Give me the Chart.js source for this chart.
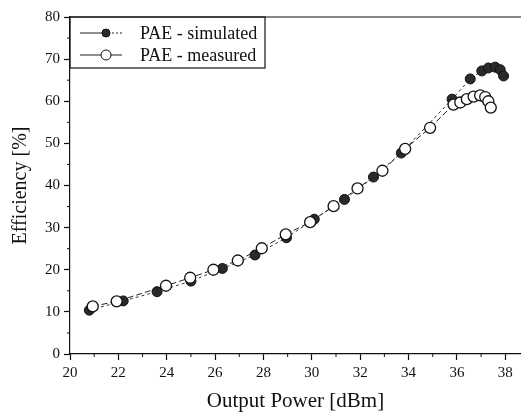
<!DOCTYPE html>
<html>
<head>
<meta charset="utf-8">
<script src="https://cdn.jsdelivr.net/npm/chart.js@4/dist/chart.umd.min.js"></script>
<style>
  html, body { margin:0; padding:0; background:#fff; overflow:hidden; }
  canvas { display:block; }
</style>
</head>
<body>
<canvas id="c" width="521" height="414"></canvas>
<script>
// === Data ===
const simX  = [20.8, 22.2, 23.6, 25.0, 26.3, 27.65, 28.95, 30.1, 31.35, 32.55, 33.7, 35.8, 36.55, 37.03, 37.3, 37.58, 37.79, 37.93];
const simY  = [10.4, 12.6, 14.8, 17.3, 20.3, 23.5, 27.6, 32.0, 36.7, 42.0, 47.7, 60.5, 65.3, 67.2, 67.9, 68.1, 67.5, 66.0];
const measX = [20.94, 21.93, 23.97, 24.97, 25.93, 26.94, 27.93, 28.92, 29.93, 30.9, 31.89, 32.92, 33.86, 34.89, 35.86, 36.14, 36.41, 36.69, 36.96, 37.17, 37.3, 37.4];
const measY = [11.3, 12.5, 16.2, 18.1, 20.0, 22.2, 25.1, 28.4, 31.3, 35.1, 39.3, 43.5, 48.7, 53.7, 59.2, 59.7, 60.5, 61.1, 61.4, 61.0, 60.0, 58.5];
const xTicks = [20, 22, 24, 26, 28, 30, 32, 34, 36, 38];
const yTicks = [0, 10, 20, 30, 40, 50, 60, 70, 80];
const legendLabels = ['PAE - simulated', 'PAE - measured'];

const FONT = "'Liberation Serif', 'DejaVu Serif', serif";

function pts(xs, ys){ return xs.map((x, i) => ({ x: x, y: ys[i] })); }

// === Plugin: minor ticks, top frame line, legend box ===
const extras = {
  id: 'extras',
  afterDraw(chart){
    const ctx = chart.ctx, a = chart.chartArea;
    const xs = chart.scales.x, ys = chart.scales.y;
    ctx.save();
    ctx.strokeStyle = '#111';
    ctx.lineWidth = 1.2;
    // top frame
    ctx.beginPath(); ctx.moveTo(a.left, a.top); ctx.lineTo(a.right, a.top); ctx.stroke();
    // minor ticks
    ctx.lineWidth = 1;
    ctx.beginPath();
    for (let v = 21; v <= 38; v += 2){
      const px = xs.getPixelForValue(v);
      ctx.moveTo(px, a.bottom); ctx.lineTo(px, a.bottom + 3);
    }
    for (let v = 5; v <= 75; v += 10){
      const py = ys.getPixelForValue(v);
      ctx.moveTo(a.left, py); ctx.lineTo(a.left - 3, py);
    }
    ctx.stroke();

    // legend box
    const bx = a.left, by = a.top, bw = 195, bh = 51;
    ctx.lineWidth = 1.2;
    ctx.strokeRect(bx, by, bw, bh);
    const rows = [
      { y: by + 16, ds: chart.data.datasets[0] },
      { y: by + 38, ds: chart.data.datasets[1] }
    ];
    rows.forEach((r, i) => {
      ctx.lineWidth = 1;
      ctx.strokeStyle = '#222';
      ctx.setLineDash([]);
      ctx.beginPath(); ctx.moveTo(bx + 10, r.y); ctx.lineTo(bx + 34, r.y); ctx.stroke();
      ctx.setLineDash(i === 0 ? [2, 2] : []);
      ctx.beginPath(); ctx.moveTo(bx + 34, r.y); ctx.lineTo(bx + 52, r.y); ctx.stroke();
      ctx.setLineDash([]);
      ctx.beginPath();
      ctx.arc(bx + 36, r.y, i === 0 ? 4 : 5, 0, Math.PI * 2);
      ctx.fillStyle = r.ds.pointBackgroundColor;
      ctx.fill();
      ctx.strokeStyle = r.ds.pointBorderColor;
      ctx.stroke();
      ctx.fillStyle = '#111';
      ctx.font = '18px ' + FONT;
      ctx.textBaseline = 'middle';
      ctx.fillText(legendLabels[i], bx + 70, r.y + 1);
    });
    ctx.restore();
  }
};

const ctx = document.getElementById('c').getContext('2d');
new Chart(ctx, {
  type: 'scatter',
  data: {
    datasets: [
      {
        label: legendLabels[0], data: pts(simX, simY), showLine: true, order: 1,
        borderColor: '#333', borderWidth: 1, borderDash: [3, 3],
        pointRadius: 5, pointBackgroundColor: '#2a2a2a', pointBorderColor: '#111', pointBorderWidth: 1
      },
      {
        label: legendLabels[1], data: pts(measX, measY), showLine: true, order: 0,
        borderColor: '#222', borderWidth: 1, borderDash: [6, 3],
        pointRadius: 5.5, pointBackgroundColor: '#fff', pointBorderColor: '#111', pointBorderWidth: 1.3
      }
    ]
  },
  options: {
    responsive: false, animation: false,
    layout: { autoPadding: false, padding: { top: 17, right: 0, bottom: 0, left: 0 } },
    plugins: { legend: { display: false }, tooltip: { enabled: false } },
    scales: {
      x: {
        type: 'linear', min: 20, max: 38.65,
        afterBuildTicks: s => { s.ticks = xTicks.map(v => ({ value: v })); },
        afterFit: s => { s.height = 60; },
        border: { display: true, color: '#111', width: 1.2 },
        grid: { drawOnChartArea: false, color: '#111', tickLength: 6, tickWidth: 1.2 },
        ticks: { color: '#111', font: { family: FONT, size: 15 }, padding: 4, maxRotation: 0 },
        title: { display: true, text: 'Output Power [dBm]', color: '#111',
                 font: { family: FONT, size: 21 }, padding: { top: 0, bottom: 0 } }
      },
      y: {
        type: 'linear', min: 0, max: 80,
        afterBuildTicks: s => { s.ticks = yTicks.map(v => ({ value: v })); },
        afterFit: s => { s.width = 70; },
        border: { display: true, color: '#111', width: 1.2 },
        grid: { drawOnChartArea: false, color: '#111', tickLength: 6, tickWidth: 1.2 },
        ticks: { color: '#111', font: { family: FONT, size: 15 }, padding: 4 },
        title: { display: true, text: 'Efficiency [%]', color: '#111',
                 font: { family: FONT, size: 20 }, padding: { top: 9, bottom: 0 } }
      }
    }
  },
  plugins: [extras]
});
</script>
</body>
</html>
